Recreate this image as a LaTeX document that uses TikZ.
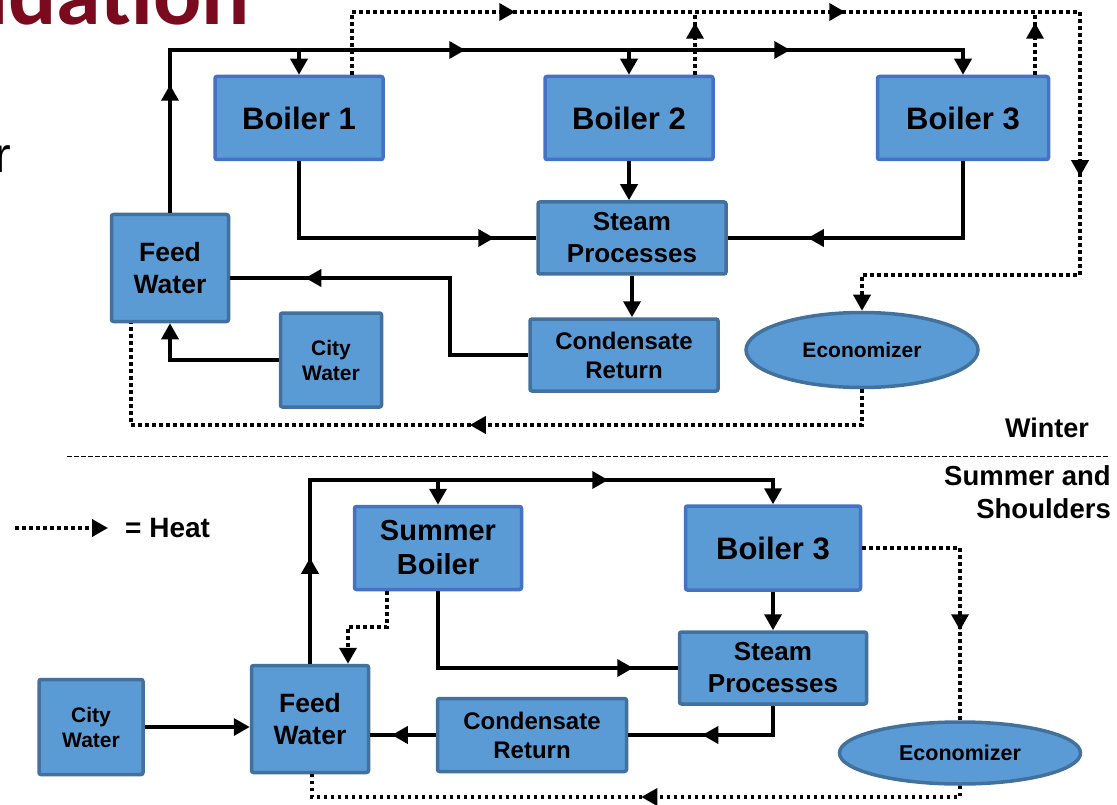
\documentclass[tikz,border=0pt]{standalone}
\usepackage{fontspec}
\setmainfont{Liberation Sans}
\newfontfamily\titlefont{Carlito}
\usetikzlibrary{arrows.meta, positioning, shapes.geometric, decorations.markings}

\definecolor{unitfill}{HTML}{5B9BD5}
\definecolor{unitline}{HTML}{41719C}
\definecolor{boilerline}{HTML}{4472C4}
\definecolor{titlered}{HTML}{7A0A1E}

\newcommand\fsz[2]{\fontsize{#1}{#2}\selectfont\bfseries}

\tikzset{
  unit/.style={rectangle, rounded corners=2pt, fill=unitfill, draw=unitline,
    line width=3.5pt, inner sep=0pt, align=center, text=black},
  boiler/.style={unit, draw=boilerline},
  econ/.style={unit, ellipse, rounded corners=0pt},
  flow/.style={line width=3.6pt},
  heat/.style={line width=3.6pt, dash pattern=on 3.6pt off 3.4pt},
  midarr/.style={postaction={decorate, decoration={markings,
    mark=at position #1 with {\arrow{Triangle[length=16pt,width=17pt]}}}}},
}

\begin{document}
\begin{tikzpicture}[x=1pt, y=-1pt, on grid, >={Triangle[length=16pt,width=17pt]}]
\useasboundingbox (0,0) rectangle (1117,805);

% slide remnants
\node[anchor=base west, inner sep=0pt, text=titlered,
  font=\titlefont\fontsize{90}{94}\selectfont\bfseries] (title) at (-40,25) {udation};
\node[anchor=base west, inner sep=0pt, font=\fontsize{50}{50}\selectfont] (rpart) at (-6,173) {r};

% ---------------- winter ----------------
\node[boiler, minimum width=168pt, minimum height=83pt, font=\fsz{31}{36}] (b1) at (299,118) {Boiler 1};
\node[boiler, minimum width=168pt, minimum height=83pt, font=\fsz{31}{36}] (b2) [right=330pt of b1] {Boiler 2};
\node[boiler, minimum width=171pt, minimum height=83pt, font=\fsz{31}{36}] (b3) [right=334pt of b2] {Boiler 3};
\node[unit, minimum width=188pt, minimum height=72pt, font=\fsz{26}{32}] (sp) at (632,238) {Steam\\Processes};
\node[unit, minimum width=188pt, minimum height=72pt, font=\fsz{24}{29}] (cr) at (624,355) {Condensate\\Return};
\node[unit, minimum width=117pt, minimum height=107pt, font=\fsz{26.5}{32}] (fw) at (170,268) {Feed\\Water};
\node[unit, minimum width=101pt, minimum height=94pt, font=\fsz{21}{25}] (cw) at (331,360) {City\\Water};
\node[econ, minimum width=232pt, minimum height=75pt, font=\fsz{21}{25}] (eco) at (862,350) {Economizer};

\coordinate (mainL) at (170,50);
\coordinate (crup) at (450,278);
\coordinate (heatTL) at (352,12);
\coordinate (heatTR) at (1080,12);
\coordinate (heatR) at (1080,275);
\coordinate (b2heat) at (695,12);
\coordinate (b3heat) at (1035,12);
\coordinate (heatBL) at (131,425);

% water and steam
\draw[flow, ->, midarr=128pt, midarr=458pt, midarr=783pt] (fw.north) -- (mainL) -| (b3.north);
\draw[flow, ->] (b1.north |- mainL) -- (b1.north);
\draw[flow, ->] (b2.north |- mainL) -- (b2.north);
\draw[flow, midarr=272pt] (b1.south) |- (sp.west);
\draw[flow, midarr=232pt] (b3.south) |- (sp.east);
\draw[flow, ->] (b2.south) -- (b2.south |- sp.north);
\draw[flow, ->] (sp.south -| cr.north) ++(8,0) -- ([xshift=8pt]cr.north);
\draw[flow, midarr=300pt] (cr.west) -| (crup) -- (crup -| fw.east);
\draw[flow, ->] (cw.west) -| (fw.south);

% heat
\draw[heat, ->, midarr=226pt, midarr=556pt, midarr=955pt]
  (heatTL |- b1.north) -- (heatTL) -- (heatTR) -- (heatR) -| (eco.north);
\draw[heat, midarr=52pt] (b2heat |- b2.north) -- (b2heat);
\draw[heat, midarr=52pt] (b3heat |- b3.north) -- (b3heat);
\draw[heat, midarr=428pt] (eco.south) |- (heatBL) -- (heatBL |- fw.south);

\node[anchor=east, inner sep=0pt, font=\fsz{27}{33}] (winter) at (1089,428) {Winter};

% separator
\coordinate (sepL) at (67,456);
\coordinate (sepR) at (1110,456);
\draw[line width=1pt, dash pattern=on 5pt off 2pt] (sepL) -- (sepR);

\node[anchor=north east, align=right, inner sep=0pt, font=\fsz{27.5}{33}] (summer) at (1111,465) {Summer and\\Shoulders};

% legend
\coordinate (legA) at (15,528);
\coordinate (legB) at (108,528);
\draw[heat, ->] (legA) -- (legB);
\node[anchor=west, inner sep=0pt, font=\fsz{28}{32}] (legtext) at (125,528) {= Heat};

% ---------------- summer and shoulders ----------------
\node[boiler, minimum width=167pt, minimum height=83pt, font=\fsz{29}{34}] (sb) at (438,548) {Summer\\Boiler};
\node[boiler, minimum width=175pt, minimum height=84pt, font=\fsz{31}{36}] (b3s) [right=335pt of sb] {Boiler 3};
\node[unit, minimum width=187pt, minimum height=72pt, font=\fsz{26}{32}] (sps) at (773,668) {Steam\\Processes};
\node[unit, minimum width=189pt, minimum height=73pt, font=\fsz{24}{29}] (crs) at (532,735) {Condensate\\Return};
\node[unit, minimum width=117pt, minimum height=107pt, font=\fsz{26.5}{32}] (fws) at (310,719) {Feed\\Water};
\node[unit, minimum width=104pt, minimum height=95pt, font=\fsz{21}{25}] (cws) at (91,727) {City\\Water};
\node[econ, minimum width=241pt, minimum height=62pt, font=\fsz{21.5}{25}] (ecos) at (960,753) {Economizer};

\coordinate (smainL) at (310,480);
\coordinate (sbheat) at (387,627);
\coordinate (fwsin) at (348,627);
\coordinate (sheatB) at (312,797);

% water and steam
\draw[flow, ->, midarr=106pt, midarr=482pt] (fws.north) -- (smainL) -| (b3s.north);
\draw[flow, ->] (sb.north |- smainL) -- (sb.north);
\draw[flow, midarr=272pt] (sb.south) |- (sps.west);
\draw[flow, ->] (b3s.south) -- (sps.north);
\draw[flow, midarr=100pt] (sps.south) |- (crs.east);
\draw[flow, midarr=44pt] (crs.west) -- (crs.west -| fws.east);
\draw[flow, ->] (cws.east) -- (cws.east -| fws.west);

% heat
\draw[heat, ->] (sbheat |- sb.south) -- (sbheat) -- (fwsin) -- (fwsin |- fws.north);
\draw[heat, midarr=180pt] (b3s.east) -| (ecos.north);
\draw[heat, midarr=330pt] (ecos.south) |- (sheatB) -- (sheatB |- fws.south);
\end{tikzpicture}
\end{document}
